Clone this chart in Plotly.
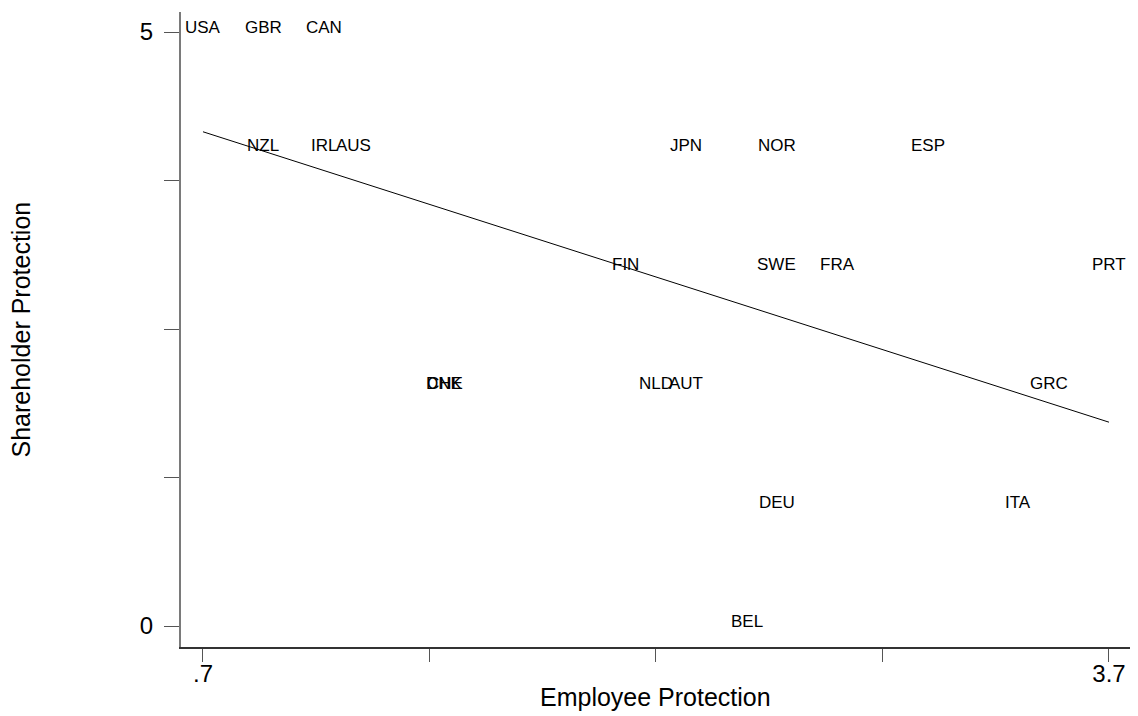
import numpy as np
import plotly.graph_objects as go

# Country codes with employment-protection and shareholder-protection scores
countries = ["USA", "GBR", "CAN", "NZL", "IRL", "AUS", "JPN", "NOR", "ESP",
             "FIN", "SWE", "FRA", "PRT", "DNK", "CHE", "NLD", "AUT", "GRC",
             "DEU", "ITA", "BEL"]
employee_protection = [0.7, 0.9, 1.1, 0.9, 1.1, 1.2, 2.3, 2.6, 3.1,
                       2.1, 2.6, 2.8, 3.7, 1.5, 1.5, 2.2, 2.3, 3.5,
                       2.6, 3.4, 2.5]
shareholder_protection = [5, 5, 5, 4, 4, 4, 4, 4, 4,
                          3, 3, 3, 3, 2, 2, 2, 2, 2,
                          1, 1, 0]

x_tick_vals = [0.7, 1.45, 2.2, 2.95, 3.7]
x_tick_text = [".7", "", "", "", "3.7"]
y_tick_vals = [0, 1.25, 2.5, 3.75, 5]
y_tick_text = ["0", "", "", "", "5"]

FONT = "Liberation Sans, Arial, Helvetica, sans-serif"

x = np.array(employee_protection)
y = np.array(shareholder_protection)

# Least-squares fit across the observed range of employee protection
slope, intercept = np.polyfit(x, y, 1)
fit_x = np.array([x.min(), x.max()])
fit_y = intercept + slope * fit_x

fig = go.Figure()

fig.add_trace(go.Scatter(
    x=fit_x, y=fit_y, mode="lines",
    line=dict(color="black", width=1),
    hoverinfo="skip", showlegend=False,
))

# Invisible points so the labels are attached to the data
fig.add_trace(go.Scatter(
    x=employee_protection, y=shareholder_protection, mode="markers",
    marker=dict(size=1, opacity=0), text=countries,
    hoverinfo="text", showlegend=False,
))

annotations = []
for name, ex, sh in zip(countries, employee_protection, shareholder_protection):
    annotations.append(dict(
        x=ex, y=sh, xref="x", yref="y", text=name, showarrow=False,
        xanchor="center", yanchor="middle", yshift=5,
        font=dict(family=FONT, size=17, color="black"),
    ))

annotations.append(dict(
    x=0.5, y=-0.079, xref="paper", yref="paper", text="Employee Protection",
    showarrow=False, xanchor="center", yanchor="middle",
    font=dict(family=FONT, size=25, color="black"),
))
annotations.append(dict(
    x=-0.1686, y=0.5, xref="paper", yref="paper", text="Shareholder Protection",
    showarrow=False, xanchor="center", yanchor="middle", textangle=-90,
    font=dict(family=FONT, size=25, color="black"),
))

fig.update_layout(
    width=1138, height=716,
    margin=dict(l=181, r=8, t=12, b=69),
    paper_bgcolor="white", plot_bgcolor="white",
    showlegend=False,
    annotations=annotations,
    font=dict(family=FONT, color="black"),
)

fig.update_xaxes(
    range=[0.6272, 3.7696],
    tickmode="array", tickvals=x_tick_vals, ticktext=x_tick_text,
    ticks="outside", ticklen=13, tickwidth=1, tickcolor="#555555",
    showline=True, linecolor="#333333", linewidth=1.5,
    showgrid=False, zeroline=False,
    tickfont=dict(family=FONT, size=24, color="black"),
    ticklabelstandoff=-9,
)
fig.update_yaxes(
    range=[-0.1768, 5.1684],
    tickmode="array", tickvals=y_tick_vals, ticktext=y_tick_text,
    ticks="outside", ticklen=15, tickwidth=1, tickcolor="#555555",
    showline=True, linecolor="#7a7a7a", linewidth=2,
    showgrid=False, zeroline=False,
    tickfont=dict(family=FONT, size=24, color="black"),
    ticklabelstandoff=6,
)

fig.write_html("out.html")
